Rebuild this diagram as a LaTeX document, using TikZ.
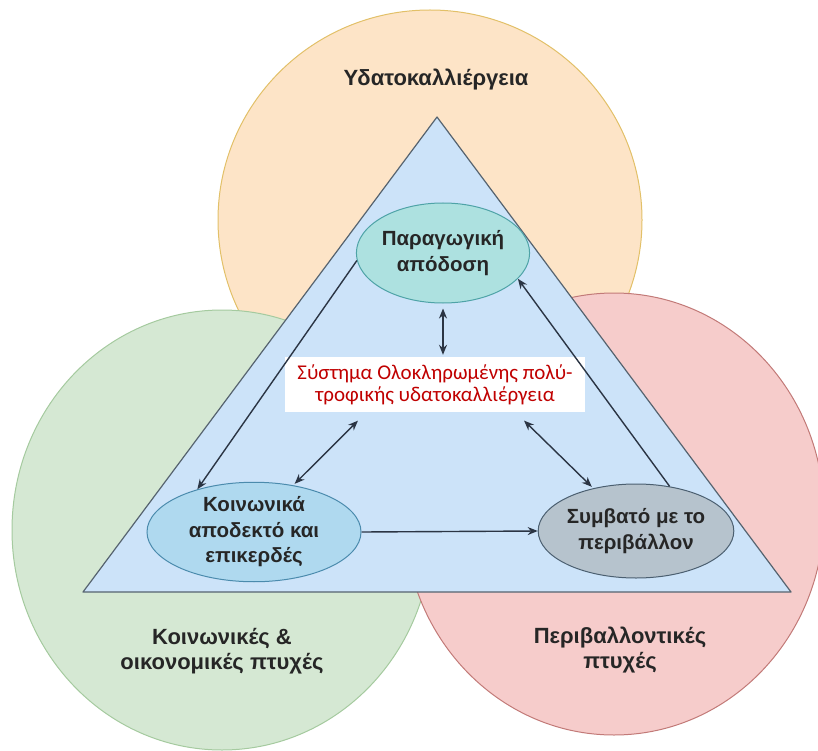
\documentclass[tikz,border=0pt]{standalone}
\usepackage{fontspec}
\setmainfont{Liberation Sans}
\newfontfamily\boxfont{Carlito}
\usetikzlibrary{arrows.meta,shapes.geometric}

\definecolor{aquafill}{HTML}{FDE4C7}
\definecolor{aqualine}{HTML}{E2C068}
\definecolor{socfill}{HTML}{D5E8D3}
\definecolor{socline}{HTML}{A5CA9F}
\definecolor{envfill}{HTML}{F6CCCB}
\definecolor{envline}{HTML}{C27A78}
\definecolor{trifill}{HTML}{CCE3F9}
\definecolor{triline}{HTML}{56636F}
\definecolor{prodfill}{HTML}{ADE1E0}
\definecolor{prodline}{HTML}{4EA3A7}
\definecolor{accfill}{HTML}{AFD9EF}
\definecolor{accline}{HTML}{4B8BAD}
\definecolor{compfill}{HTML}{B6C3CD}
\definecolor{compline}{HTML}{4B5F70}
\definecolor{sysred}{HTML}{C00000}
\definecolor{linkcol}{HTML}{2B3544}

\tikzset{
  aspect/.style={font=\bfseries\fontsize{22}{25}\selectfont, text=black!85, align=center},
  goal/.style={ellipse, line width=1pt, inner sep=0pt, align=center,
    font=\bfseries\fontsize{20.5}{25.5}\selectfont, text=black!85},
  link/.style={draw=linkcol, line width=1.4pt, -{Stealth[length=10pt,width=8pt]}},
  twoway/.style={link, {Stealth[length=10pt,width=8pt]}-{Stealth[length=10pt,width=8pt]}},
}

\begin{document}
\begin{tikzpicture}[x=1pt,y=-1pt]
    \useasboundingbox (0,0) rectangle (818,751);
    %% Circles
    \draw[fill=aquafill,draw=aqualine,line width=1pt] (430,220) ellipse (212 and 210);
    \draw[fill=socfill,draw=socline,line width=1pt] (222,530) ellipse (210 and 220);
    \draw[fill=envfill,draw=envline,line width=1pt] (614,514) ellipse (210 and 221);
    %% Triangle
    \draw[fill=trifill,draw=triline,line width=1.2pt,line join=round] (437,117) -- (83,592) -- (791,592) -- cycle;
    %% Labels
    \node[aspect] (aqua) at (436,80) {Υδατοκαλλιέργεια};
    \node[aspect] (soc) at (222,651) {Κοινωνικές \&\\οικονομικές πτυχές};
    \node[aspect] (env) at (620,650) {Περιβαλλοντικές\\πτυχές};
    %% Goals
    \node[goal,fill=prodfill,draw=prodline,minimum width=152pt,minimum height=100pt] (prod) at (443,253) {Παραγωγική\\απόδοση};
    \node[goal,fill=accfill,draw=accline,minimum width=214pt,minimum height=96pt] (acc) at (254,532) {Κοινωνικά\\αποδεκτό και\\επικερδές};
    \node[goal,fill=compfill,draw=compline,minimum width=192pt,minimum height=94pt] (comp) at (636,531) {Συμβατό με το\\περιβάλλον};
    \node[fill=white,minimum width=300pt,minimum height=55pt,inner sep=0pt,align=center,
      font=\boxfont\fontsize{21}{22}\selectfont,text=sysred] (sys) at (435,384.5)
      {Σύστημα Ολοκληρωμένης πολύ-\\τροφικής υδατοκαλλιέργεια};
    %% Links
    \draw[twoway,shorten <=5pt,shorten >=2pt] (prod.south) -- (prod.south |- sys.north);
    \draw[twoway,shorten <=12pt,shorten >=2pt] (sys.202) -- (acc.50);
    \draw[twoway,shorten <=12pt,shorten >=2pt] (sys.-19) -- (comp.135);
    \draw[link] (acc.east) -- (comp.west);
    \draw[link] (prod.185) -- (acc.143);
    \draw[link] (comp.53) -- (prod.-19);
\end{tikzpicture}
\end{document}
